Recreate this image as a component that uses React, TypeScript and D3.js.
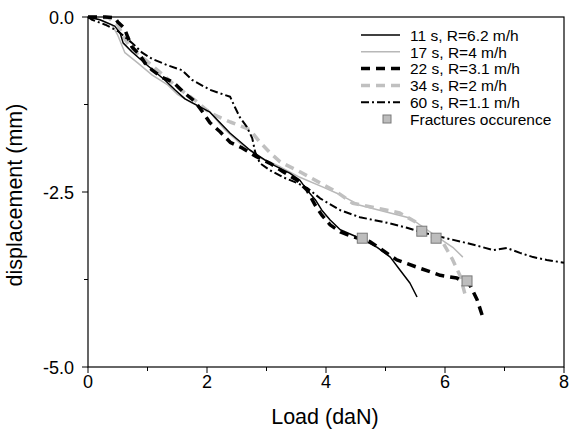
import React from "react";
import * as d3 from "d3";

const s11x = [0, 0.2, 0.45, 0.54, 0.59, 0.74, 1.01, 1.29, 1.46, 1.63, 1.85, 2.05, 2.39, 2.72, 3.06, 3.39, 3.56, 3.68, 3.82, 3.93, 4.07, 4.24, 4.57, 4.86, 5.08, 5.24, 5.41, 5.53];
const s11y = [0, -0.04, -0.13, -0.23, -0.37, -0.5, -0.7, -0.9, -1.04, -1.17, -1.27, -1.36, -1.66, -1.9, -2.09, -2.23, -2.33, -2.47, -2.61, -2.76, -2.9, -3.04, -3.16, -3.29, -3.43, -3.61, -3.8, -4.0];

const s17x = [0, 0.2, 0.4, 0.5, 0.62, 0.84, 1.08, 1.34, 1.51, 1.75, 2.02, 2.3, 2.55, 2.89, 3.23, 3.56, 3.95, 4.24, 4.57, 5.03, 5.41, 5.63, 5.87, 6.13, 6.3];
const s17y = [0, -0.04, -0.11, -0.26, -0.51, -0.66, -0.83, -0.97, -1.11, -1.23, -1.33, -1.61, -1.8, -2.01, -2.14, -2.29, -2.43, -2.54, -2.69, -2.79, -2.87, -3.0, -3.14, -3.29, -3.43];

const s22x = [0, 0.29, 0.45, 0.5, 0.61, 0.67, 0.74, 0.87, 0.96, 1.08, 1.24, 1.43, 1.6, 1.8, 1.93, 2.05, 2.22, 2.39, 2.59, 2.84, 3.06, 3.28, 3.51, 3.68, 3.82, 3.93, 4.07, 4.24, 4.45, 4.74, 5.19, 5.58, 5.92, 6.2, 6.42, 6.54, 6.64];
const s22y = [0, 0, -0.01, -0.07, -0.16, -0.29, -0.43, -0.54, -0.66, -0.76, -0.86, -0.93, -1.07, -1.21, -1.36, -1.51, -1.64, -1.79, -1.87, -2.0, -2.09, -2.21, -2.33, -2.47, -2.69, -2.83, -2.97, -3.07, -3.14, -3.21, -3.47, -3.59, -3.69, -3.73, -3.83, -4.04, -4.3];

const s34x = [0, 0.34, 0.5, 0.61, 0.74, 0.96, 1.21, 1.51, 1.8, 2.05, 2.39, 2.72, 2.89, 3.06, 3.23, 3.56, 3.9, 4.18, 4.45, 4.86, 5.24, 5.53, 5.7, 5.97, 6.13, 6.25, 6.34];
const s34y = [0, -0.01, -0.11, -0.3, -0.47, -0.61, -0.79, -1.01, -1.19, -1.37, -1.5, -1.61, -1.79, -1.94, -2.07, -2.21, -2.37, -2.5, -2.66, -2.73, -2.8, -2.94, -3.09, -3.23, -3.47, -3.69, -3.97];

const s60x = [0, 0.07, 0.29, 0.5, 0.74, 0.91, 1.08, 1.34, 1.58, 1.75, 2.05, 2.39, 2.47, 2.55, 2.67, 2.76, 2.81, 2.89, 3.06, 3.28, 3.51, 3.68, 3.9, 4.24, 4.57, 5.03, 5.36, 5.58, 5.92, 6.37, 6.64, 6.81, 7.04, 7.26, 7.48, 7.71, 8.0];
const s60y = [0, -0.04, -0.11, -0.2, -0.37, -0.51, -0.6, -0.69, -0.76, -0.9, -1.04, -1.14, -1.29, -1.43, -1.57, -1.73, -1.93, -2.09, -2.19, -2.29, -2.37, -2.44, -2.59, -2.76, -2.86, -2.94, -3.01, -3.07, -3.14, -3.23, -3.29, -3.33, -3.3, -3.37, -3.43, -3.47, -3.51];

const fracX = [4.61, 5.61, 5.85, 6.37];
const fracY = [-3.16, -3.06, -3.16, -3.77];

const xTicks = [0, 2, 4, 6, 8];
const xMinor = [1, 3, 5, 7];
const yTicks = [0, -2.5, -5];
const yMinor = [-1.25, -3.75];

const seriesNames = ["11 s, R=6.2 m/h", "17 s, R=4 m/h", "22 s, R=3.1 m/h", "34 s, R=2 m/h", "60 s, R=1.1 m/h"];
const fracName = "Fractures occurence";

const styles = [
  { color: "#000000", width: 1.5, dash: "" },
  { color: "#b8b8b8", width: 1.5, dash: "" },
  { color: "#000000", width: 3.5, dash: "9,6" },
  { color: "#c0c0c0", width: 3.5, dash: "9,6" },
  { color: "#000000", width: 2, dash: "8,3,2,3" },
];

export default function App() {
  const W = 569, H = 432;
  const L = 88, R = 564, T = 17, B = 367;
  const x = d3.scaleLinear().domain([0, 8]).range([L, R]);
  const y = d3.scaleLinear().domain([-5, 0]).range([B, T]);
  const line = d3.line<[number, number]>().x(d => x(d[0])).y(d => y(d[1])).curve(d3.curveLinear);
  const data = [
    d3.zip(s11x, s11y),
    d3.zip(s17x, s17y),
    d3.zip(s22x, s22y),
    d3.zip(s34x, s34y),
    d3.zip(s60x, s60y),
  ] as [number, number][][];
  const font = "'Liberation Sans', Arial, sans-serif";
  const order = [1, 3, 4, 2, 0];
  const legY = 35, legStep = 16.8;
  return (
    <svg width={W} height={H} style={{ position: "absolute", left: 0, top: 0, background: "#fff" }} fontFamily={font}>
      <rect x={0} y={0} width={W} height={H} fill="#fff" />
      {order.map(i => (
        <path key={i} d={line(data[i]) || ""} fill="none" stroke={styles[i].color} strokeWidth={styles[i].width}
          strokeDasharray={styles[i].dash || undefined} strokeLinejoin="round" />
      ))}
      {fracX.map((fx, i) => (
        <rect key={i} x={x(fx) - 5} y={y(fracY[i]) - 5} width={10} height={10} fill="#bdbdbd" stroke="#7a7a7a" strokeWidth={1} />
      ))}
      <rect x={L} y={T} width={R - L} height={B - T} fill="none" stroke="#000" strokeWidth={1.2} />
      {xTicks.map(t => (
        <g key={"xt" + t}>
          <line x1={x(t)} x2={x(t)} y1={B} y2={B + 6} stroke="#000" strokeWidth={1} />
          <text x={x(t)} y={B + 21} textAnchor="middle" fontSize={18}>{t}</text>
        </g>
      ))}
      {xMinor.map(t => (
        <line key={"xm" + t} x1={x(t)} x2={x(t)} y1={B} y2={B + 4} stroke="#000" strokeWidth={1} />
      ))}
      {yTicks.map(t => (
        <g key={"yt" + t}>
          <line x1={L - 6} x2={L} y1={y(t)} y2={y(t)} stroke="#000" strokeWidth={1} />
          <text x={L - 14} y={y(t) + 6.5} textAnchor="end" fontSize={18}>{t.toFixed(1)}</text>
        </g>
      ))}
      {yMinor.map(t => (
        <line key={"ym" + t} x1={L - 4} x2={L} y1={y(t)} y2={y(t)} stroke="#000" strokeWidth={1} />
      ))}
      <text x={(L + R) / 2 - 1} y={424} textAnchor="middle" fontSize={21.5}>Load (daN)</text>
      <text transform={`translate(22, ${(T + B) / 2 + 3}) rotate(-90)`} textAnchor="middle" fontSize={21.5}>displacement (mm)</text>
      {seriesNames.map((n, i) => (
        <g key={n}>
          <line x1={361} x2={400} y1={legY + i * legStep} y2={legY + i * legStep} stroke={styles[i].color}
            strokeWidth={styles[i].width} strokeDasharray={styles[i].dash || undefined} />
          <text x={410} y={legY + 5.7 + i * legStep} fontSize={15.5}>{n}</text>
        </g>
      ))}
      <rect x={383} y={legY + 5 * legStep - 4} width={8} height={8} fill="#bdbdbd" stroke="#7a7a7a" strokeWidth={1} />
      <text x={410} y={legY + 5.7 + 5 * legStep} fontSize={15.5}>{fracName}</text>
    </svg>
  );
}
